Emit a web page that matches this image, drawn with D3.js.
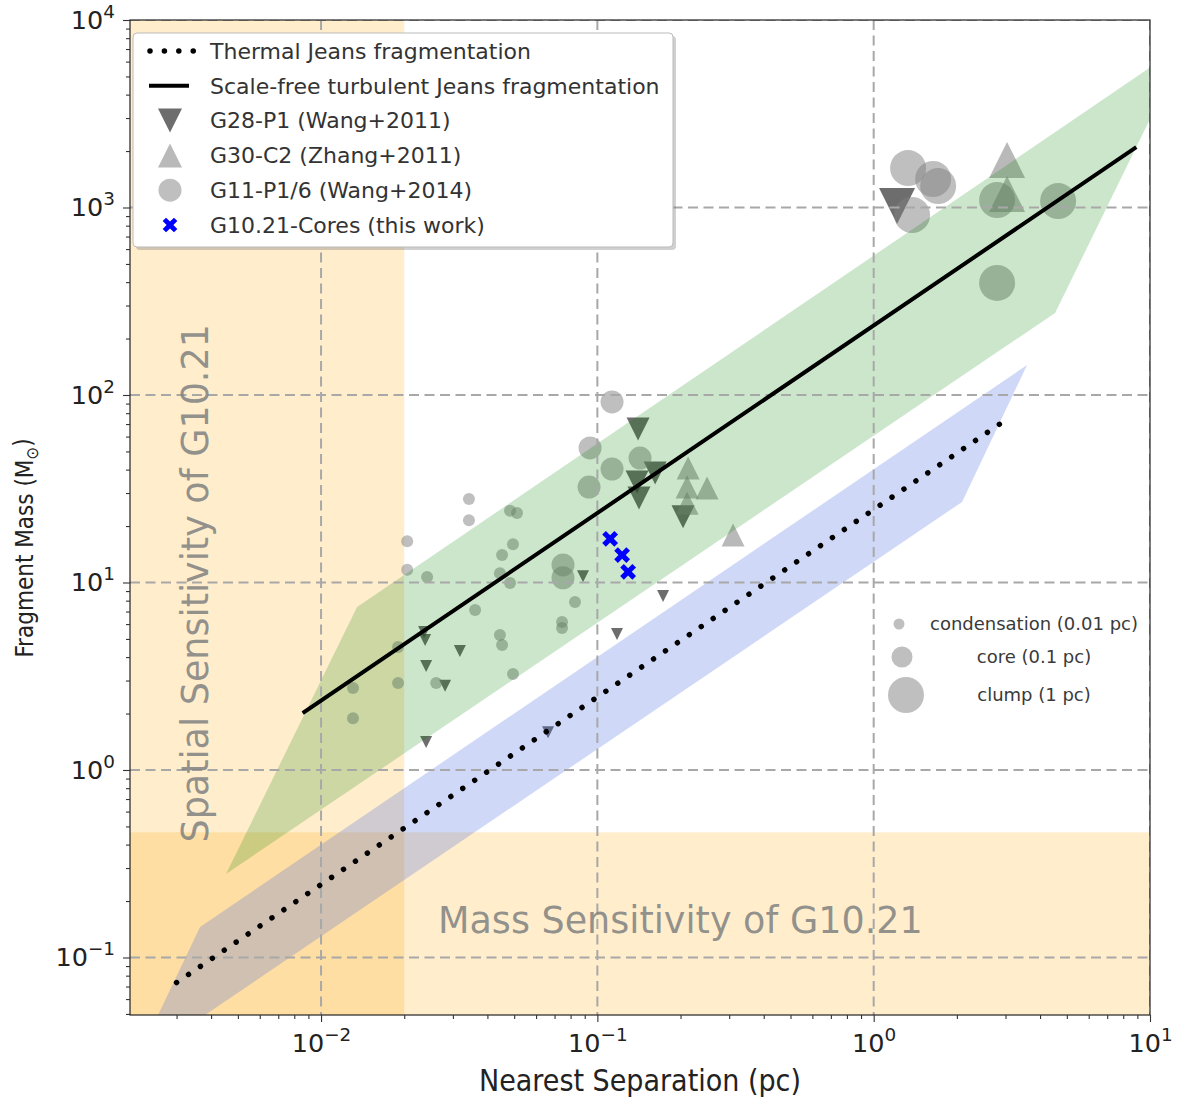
<!DOCTYPE html>
<html>
<head>
<meta charset="utf-8">
<script src="https://cdn.jsdelivr.net/npm/d3@7"></script>
<style>
  body { margin: 0; background: #fff; }
  svg { display: block; }
  text { font-family: "DejaVu Sans", sans-serif; }
</style>
</head>
<body>
<script>
// ---------------- data ----------------
// Fragmentation models (separation in pc, mass in Msun)
const thermalSep  = [0.003, 2.9];
const thermalMass = [0.0735, 71];
const turbSep     = [0.0087, 8.8];
const turbMass    = [2.04, 2068];

// Allowed ranges of the two models
const turbBandSep   = [0.00453, 0.0135, 13.7, 4.535];
const turbBandMass  = [0.279, 7.40, 7640, 273.7];
const thermBandSep  = [0.002133, 0.003648, 3.59, 2.089];
const thermBandMass = [0.0277, 0.1455, 144.5, 26.9];

// Observational limits of G10.21
const spatialLimit = 0.02;   // pc
const massLimit    = 0.465;  // Msun

// G28-P1 (Wang+2011)
const g28Sep   = [1.215, 0.1404, 0.1618, 0.1392, 0.1415, 0.2042, 0.0236, 0.0238, 0.0318, 0.0240, 0.0281, 0.0240, 0.1178, 0.1729, 0.0887, 0.0663];
const g28Mass  = [1019, 65.9, 38.4, 34.4, 28.2, 22.4, 5.45, 4.93, 4.31, 3.59, 2.81, 1.41, 5.31, 8.47, 10.8, 1.59];
const g28Scale = ["clump", "core", "core", "core", "core", "core",
  "condensation", "condensation", "condensation", "condensation", "condensation",
  "condensation", "condensation", "condensation", "condensation", "condensation"];

// G30-C2 (Zhang+2011)
const g30Sep   = [3.039, 3.039, 0.2130, 0.2112, 0.2495, 0.2112, 0.3098];
const g30Mass  = [1792, 1180, 40.8, 32.3, 31.9, 26.5, 17.9];
const g30Scale = ["clump", "clump", "core", "core", "core", "core", "core"];

// G11-P1/6 (Wang+2014)
const g11Sep  = [1.332, 1.641, 1.711, 1.377, 2.797, 4.650, 2.797,
  0.113, 0.0941, 0.113, 0.1427, 0.0933, 0.0751, 0.0751,
  0.0343, 0.0343, 0.0205, 0.0483, 0.0512, 0.0495, 0.0452, 0.0205, 0.0242, 0.0444, 0.0483,
  0.0830, 0.0745, 0.0745, 0.0361, 0.0444, 0.0452, 0.0495, 0.0190, 0.0190, 0.01305, 0.01305, 0.0261];
const g11Mass = [1624, 1419, 1302, 912, 1096, 1083, 396,
  91.8, 52.2, 40.3, 46.1, 32.3, 12.4, 10.6,
  27.9, 21.5, 16.6, 24.1, 23.5, 16.0, 14.0, 11.7, 10.7, 11.2, 9.94,
  7.87, 6.16, 5.72, 7.13, 5.25, 4.64, 3.25, 4.53, 2.91, 2.74, 1.89, 2.91];
const g11Scale = [].concat(Array(7).fill("clump"), Array(7).fill("core"), Array(23).fill("condensation"));

// G10.21 cores (this work)
const g10Sep  = [0.1112, 0.1229, 0.1292];
const g10Mass = [17.1, 14.0, 11.4];

// Axis ticks and labels
const xMajor = [0.01, 0.1, 1, 10];
const xMajorLabels = ["\u22122", "\u22121", "0", "1"];
const yMajor = [0.1, 1, 10, 100, 1000, 10000];
const yMajorLabels = ["\u22121", "0", "1", "2", "3", "4"];

const legendLabels = [
  "Thermal Jeans fragmentation",
  "Scale-free turbulent Jeans fragmentation",
  "G28-P1 (Wang+2011)",
  "G30-C2 (Zhang+2011)",
  "G11-P1/6 (Wang+2014)",
  "G10.21-Cores (this work)"
];
const scaleKeys   = ["condensation", "core", "clump"];
const scaleLabels = ["condensation (0.01 pc)", "core (0.1 pc)", "clump (1 pc)"];

// ---------------- layout ----------------
const W = 1178, H = 1100;
const L = 130, R = 1150, T = 20, B = 1015;

const x = d3.scaleLog().domain([0.002035, 10]).range([L, R]);
const y = d3.scaleLog().domain([0.04935, 10000]).range([B, T]);

const markerR = { condensation: 6, core: 11.5, clump: 18 };

const svg = d3.select("body").append("svg").attr("width", W).attr("height", H);

svg.append("defs").append("clipPath").attr("id", "plotArea")
  .append("rect").attr("x", L).attr("y", T).attr("width", R - L).attr("height", B - T);

const plot = svg.append("g").attr("clip-path", "url(#plotArea)");

// sensitivity regions
plot.append("rect")
  .attr("x", L).attr("y", T)
  .attr("width", x(spatialLimit) - L).attr("height", B - T)
  .attr("fill", "rgb(255,165,0)").attr("fill-opacity", 0.2);
plot.append("rect")
  .attr("x", L).attr("y", y(massLimit))
  .attr("width", R - L).attr("height", B - y(massLimit))
  .attr("fill", "rgb(255,165,0)").attr("fill-opacity", 0.2);

// marker shapes
function triPath(r, down) {
  const s = down ? -1 : 1;
  return `M0,${-s * r}L${r},${s * r}L${-r},${s * r}Z`;
}
function xPath(h) {
  const a = h * 0.3, l = h;
  const pts = [[-a, -l], [a, -l], [a, -a], [l, -a], [l, a], [a, a], [a, l], [-a, l], [-a, a], [-l, a], [-l, -a], [-a, -a]];
  const c = Math.SQRT1_2;
  return "M" + pts.map(([px, py]) => `${(px - py) * c},${(px + py) * c}`).join("L") + "Z";
}

// literature fragments (beneath the translucent model bands)
const marks = plot.append("g");
function drawTriangles(seps, masses, scales, down, fill, opacity) {
  marks.append("g").selectAll("path")
    .data(seps.map((s, i) => ({ s, m: masses[i], k: scales[i] })))
    .join("path")
    .attr("transform", d => `translate(${x(d.s)},${y(d.m)})`)
    .attr("d", d => triPath(markerR[d.k], down))
    .attr("fill", fill).attr("fill-opacity", opacity);
}
drawTriangles(g28Sep, g28Mass, g28Scale, true, "#3a3a3a", 0.74);
drawTriangles(g30Sep, g30Mass, g30Scale, false, "#808080", 0.55);

marks.append("g").selectAll("circle")
  .data(g11Sep.map((s, i) => ({ s, m: g11Mass[i], k: g11Scale[i] })))
  .join("circle")
  .attr("cx", d => x(d.s)).attr("cy", d => y(d.m)).attr("r", d => markerR[d.k])
  .attr("fill", "#808080").attr("fill-opacity", 0.5);

// model bands
const poly = (xs, ys) => "M" + xs.map((v, i) => x(v) + "," + y(ys[i])).join("L") + "Z";
plot.append("path").attr("d", poly(turbBandSep, turbBandMass))
  .attr("fill", "rgb(0,128,0)").attr("fill-opacity", 0.2);
plot.append("path").attr("d", poly(thermBandSep, thermBandMass))
  .attr("fill", "rgb(65,105,225)").attr("fill-opacity", 0.25);

// grid
const grid = plot.append("g").attr("stroke", "#a8a8a8").attr("stroke-width", 2)
  .attr("stroke-dasharray", "10,5.5");
grid.selectAll("line.gx").data(xMajor).join("line").attr("class", "gx")
  .attr("x1", d => x(d)).attr("x2", d => x(d)).attr("y1", T).attr("y2", B);
grid.selectAll("line.gy").data(yMajor).join("line").attr("class", "gy")
  .attr("y1", d => y(d)).attr("y2", d => y(d)).attr("x1", L).attr("x2", R);

// G10.21 cores on top
plot.append("g").selectAll("path")
  .data(g10Sep.map((s, i) => ({ s, m: g10Mass[i] })))
  .join("path")
  .attr("transform", d => `translate(${x(d.s)},${y(d.m)})`)
  .attr("d", xPath(8.6)).attr("fill", "#0000ff");

// model lines
const line = d3.line().x(d => x(d[0])).y(d => y(d[1]));
plot.append("path").datum(thermalSep.map((s, i) => [s, thermalMass[i]]))
  .attr("d", line).attr("fill", "none").attr("stroke", "#000")
  .attr("stroke-width", 5.5).attr("stroke-linecap", "round").attr("stroke-dasharray", "0.01,14.4");
plot.append("path").datum(turbSep.map((s, i) => [s, turbMass[i]]))
  .attr("d", line).attr("fill", "none").attr("stroke", "#000")
  .attr("stroke-width", 4).attr("stroke-linecap", "square");

// region labels
plot.append("text")
  .attr("transform", `translate(${x(0.0035)},${y(9.9)}) rotate(-90)`)
  .attr("text-anchor", "middle").attr("dy", "0.36em")
  .attr("font-size", 36.5).attr("fill", "#808080").attr("fill-opacity", 0.85)
  .text("Spatial Sensitivity of G10.21");
plot.append("text")
  .attr("x", x(0.0265)).attr("y", y(0.158))
  .attr("dy", "0.36em")
  .attr("font-size", 36.5).attr("fill", "#808080").attr("fill-opacity", 0.85)
  .text("Mass Sensitivity of G10.21");

// frame
svg.append("rect").attr("x", L).attr("y", T).attr("width", R - L).attr("height", B - T)
  .attr("fill", "none").attr("stroke", "#222").attr("stroke-width", 1.2);

// axes
const minorOf = domain => {
  const out = [];
  for (let e = -4; e <= 4; e++) for (let k = 2; k <= 9; k++) {
    const v = k * Math.pow(10, e);
    if (v > domain[0] && v < domain[1]) out.push(v);
  }
  return out;
};
function supLabels(g, labels, ticks) {
  g.selectAll(".tick text").each(function (d) {
    const t = d3.select(this).text(null);
    t.append("tspan").text("10");
    t.append("tspan").attr("dy", "-0.6em").attr("font-size", "0.72em").text(labels[ticks.indexOf(d)]);
  });
}

const gx = svg.append("g").attr("transform", `translate(0,${B})`)
  .call(d3.axisBottom(x).tickValues(xMajor).tickSize(7).tickPadding(12).tickFormat(() => ""));
gx.call(g => supLabels(g, xMajorLabels, xMajor));
svg.append("g").attr("transform", `translate(0,${B})`)
  .call(d3.axisBottom(x).tickValues(minorOf(x.domain())).tickSize(4).tickFormat(() => ""));

const gy = svg.append("g").attr("transform", `translate(${L},0)`)
  .call(d3.axisLeft(y).tickValues(yMajor).tickSize(7).tickPadding(8).tickFormat(() => ""));
gy.call(g => supLabels(g, yMajorLabels, yMajor));
svg.append("g").attr("transform", `translate(${L},0)`)
  .call(d3.axisLeft(y).tickValues(minorOf(y.domain())).tickSize(4).tickFormat(() => ""));

svg.selectAll(".domain").remove();
svg.selectAll(".tick line").attr("stroke", "#333").attr("stroke-width", 1.1);
gx.selectAll(".tick text").attr("font-size", 25.5).attr("fill", "#222")
  .attr("font-family", "DejaVu Sans");
gy.selectAll(".tick text").attr("font-size", 25.5).attr("fill", "#222")
  .attr("font-family", "DejaVu Sans");

// axis titles
svg.append("text")
  .attr("x", 640).attr("y", 1080).attr("dy", "0.35em")
  .attr("text-anchor", "middle").attr("font-size", 30).attr("fill", "#222")
  .style("font-family", "'DejaVu Sans Condensed', 'DejaVu Sans'").style("font-stretch", "condensed")
  .text("Nearest Separation (pc)");
const yt = svg.append("text")
  .attr("transform", "translate(25,548) rotate(-90)").attr("dy", "0.35em")
  .attr("text-anchor", "middle").attr("font-size", 24).attr("fill", "#222")
  .style("font-family", "'DejaVu Sans Condensed', 'DejaVu Sans'").style("font-stretch", "condensed");
yt.append("tspan").text("Fragment Mass (M");
yt.append("tspan").attr("dy", "0.3em").attr("font-size", "0.7em").text("\u2299");
yt.append("tspan").attr("dy", "-0.3em").text(")");

// legend
const lg = svg.append("g");
lg.append("rect").attr("x", 136).attr("y", 36).attr("width", 540).attr("height", 214)
  .attr("rx", 4).attr("fill", "#777").attr("fill-opacity", 0.35);
lg.append("rect").attr("x", 133).attr("y", 33).attr("width", 540).attr("height", 214)
  .attr("rx", 4).attr("fill", "#fff").attr("stroke", "#bbb").attr("stroke-width", 1);
const rowY = i => 51 + i * 34.8;
lg.selectAll("text.lab").data(legendLabels).join("text").attr("class", "lab")
  .attr("x", 210).attr("y", (d, i) => rowY(i)).attr("dy", "0.35em")
  .attr("font-size", 22).attr("fill", "#333").text(d => d);
lg.append("line").attr("x1", 150).attr("x2", 196).attr("y1", rowY(0)).attr("y2", rowY(0))
  .attr("stroke", "#000").attr("stroke-width", 5.5).attr("stroke-linecap", "round")
  .attr("stroke-dasharray", "0.01,14.4");
lg.append("line").attr("x1", 149).attr("x2", 189).attr("y1", rowY(1)).attr("y2", rowY(1))
  .attr("stroke", "#000").attr("stroke-width", 4);
lg.append("path").attr("transform", `translate(170,${rowY(2)})`).attr("d", triPath(12, true))
  .attr("fill", "#3a3a3a").attr("fill-opacity", 0.74);
lg.append("path").attr("transform", `translate(170,${rowY(3)})`).attr("d", triPath(12, false))
  .attr("fill", "#808080").attr("fill-opacity", 0.55);
lg.append("circle").attr("cx", 170).attr("cy", rowY(4)).attr("r", 11.5)
  .attr("fill", "#808080").attr("fill-opacity", 0.5);
lg.append("path").attr("transform", `translate(170,${rowY(5)})`).attr("d", xPath(8))
  .attr("fill", "#0000ff");

// size key
const sk = svg.append("g");
const keyY = [624, 657, 695];
const keyX = [899, 902, 906];
const keyR = { condensation: 5.5, core: 10.5, clump: 18 };
sk.selectAll("circle").data(scaleKeys).join("circle")
  .attr("cx", (d, i) => keyX[i]).attr("cy", (d, i) => keyY[i]).attr("r", d => keyR[d])
  .attr("fill", "#808080").attr("fill-opacity", 0.5);
sk.selectAll("text").data(scaleLabels).join("text")
  .attr("x", 1034).attr("y", (d, i) => keyY[i]).attr("dy", "0.35em")
  .attr("text-anchor", "middle").attr("font-size", 18).attr("fill", "#3a3a3a").text(d => d);
</script>
</body>
</html>
